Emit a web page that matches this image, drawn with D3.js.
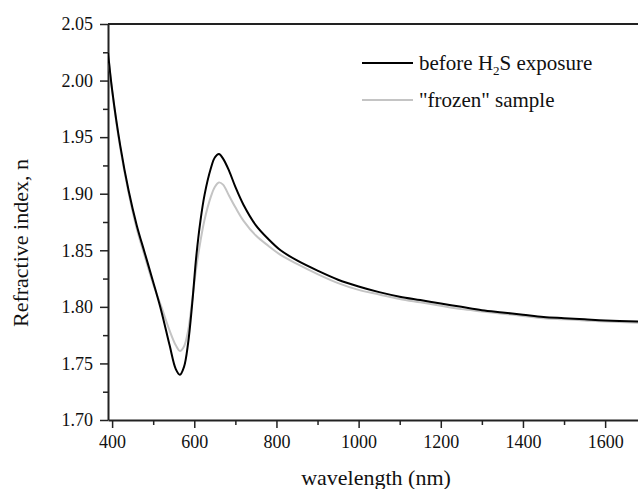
<!DOCTYPE html>
<html>
<head>
<meta charset="utf-8">
<script src="https://cdn.jsdelivr.net/npm/d3@7"></script>
<style>
  body { margin: 0; background: #fff; }
  svg text { font-family: "Liberation Serif", "Times New Roman", serif; fill: #111; }
</style>
</head>
<body>
<div id="chart"></div>
<script>
// refractive index vs wavelength
const wavelengths = [390, 400, 420, 440, 460, 480, 500, 520, 540, 555, 565, 575, 585, 595, 605, 615, 625, 640, 650, 660, 670, 685, 700, 720, 750, 780, 810, 850, 900, 950, 1000, 1050, 1100, 1150, 1200, 1250, 1300, 1350, 1400, 1450, 1500, 1550, 1600, 1680];
const nBefore = [2.025, 1.992, 1.942, 1.903, 1.872, 1.847, 1.822, 1.796, 1.766, 1.745, 1.740, 1.747, 1.768, 1.803, 1.845, 1.876, 1.899, 1.922, 1.932, 1.935, 1.931, 1.920, 1.906, 1.890, 1.872, 1.860, 1.850, 1.841, 1.832, 1.824, 1.818, 1.813, 1.809, 1.806, 1.803, 1.800, 1.797, 1.795, 1.793, 1.791, 1.790, 1.789, 1.788, 1.787];
const nFrozen = [2.025, 1.991, 1.940, 1.901, 1.869, 1.844, 1.820, 1.800, 1.779, 1.766, 1.761, 1.765, 1.779, 1.806, 1.835, 1.858, 1.877, 1.897, 1.906, 1.910, 1.908, 1.898, 1.888, 1.876, 1.863, 1.854, 1.846, 1.838, 1.829, 1.821, 1.815, 1.811, 1.807, 1.804, 1.801, 1.798, 1.796, 1.794, 1.792, 1.790, 1.789, 1.788, 1.787, 1.786];
const xTicks = [400, 600, 800, 1000, 1200, 1400, 1600];
const yTicks = [1.70, 1.75, 1.80, 1.85, 1.90, 1.95, 2.00, 2.05];
const seriesNames = ["before", "\"frozen\" sample"];

const width = 638, height = 489,
      margin = ({top: 24, right: 0, left: 108, bottom: 69});
const serif = "'Liberation Serif', 'Times New Roman', serif";

const svg = d3.select("#chart")
    .append("svg")
    .attr("width", width)
    .attr("height", height);

const x = d3.scaleLinear()
    .domain([390, 1680])
    .range([margin.left, width - margin.right]);

const y = d3.scaleLinear()
    .domain([1.70, 2.05])
    .range([height - margin.bottom, margin.top]);

// minor ticks halfway between the major ones
const xMinor = xTicks.map(d => d + 100).filter(d => d < 1680);
const yMinor = yTicks.slice(0, -1).map(d => d + 0.025);

svg.append("g")
    .attr("transform", `translate(0,${height - margin.bottom})`)
    .call(d3.axisBottom(x).tickValues(xMinor).tickSize(5).tickFormat(""))
    .call(g => g.select(".domain").remove())
    .call(g => g.selectAll("line").attr("stroke", "#222").attr("stroke-width", 1.5));

svg.append("g")
    .attr("transform", `translate(${margin.left},0)`)
    .call(d3.axisLeft(y).tickValues(yMinor).tickSize(5).tickFormat(""))
    .call(g => g.select(".domain").remove())
    .call(g => g.selectAll("line").attr("stroke", "#222").attr("stroke-width", 1.5));

svg.append("g")
    .attr("transform", `translate(0,${height - margin.bottom})`)
    .attr("font-family", serif)
    .attr("font-size", 18)
    .call(d3.axisBottom(x).tickValues(xTicks).tickSize(8).tickPadding(7).tickSizeOuter(0)
        .tickFormat(d3.format("d")))
    .attr("font-family", serif)
    .attr("font-size", 18)
    .call(g => g.select(".domain").attr("stroke", "#222").attr("stroke-width", 2))
    .call(g => g.selectAll("line").attr("stroke", "#222").attr("stroke-width", 1.5));

svg.append("g")
    .attr("transform", `translate(${margin.left},0)`)
    .call(d3.axisLeft(y).tickValues(yTicks).tickSize(8).tickPadding(7).tickSizeOuter(0)
        .tickFormat(d3.format(".2f")))
    .attr("font-family", serif)
    .attr("font-size", 18)
    .call(g => g.select(".domain").attr("stroke", "#222").attr("stroke-width", 2))
    .call(g => g.selectAll("line").attr("stroke", "#222").attr("stroke-width", 1.5));

// top frame line
svg.append("line")
    .attr("x1", margin.left).attr("x2", width)
    .attr("y1", y(2.05)).attr("y2", y(2.05))
    .attr("stroke", "#222").attr("stroke-width", 2);

svg.append("clipPath").attr("id", "plot")
  .append("rect")
    .attr("x", margin.left).attr("y", margin.top)
    .attr("width", width - margin.left).attr("height", height - margin.bottom - margin.top);

const line = d3.line()
    .x((d, i) => x(wavelengths[i]))
    .y(d => y(d))
    .curve(d3.curveCatmullRom.alpha(0.5));

svg.append("path")
    .datum(nFrozen)
    .attr("clip-path", "url(#plot)")
    .attr("fill", "none")
    .attr("stroke", "#c4c4c4")
    .attr("stroke-width", 2)
    .attr("d", line);

svg.append("path")
    .datum(nBefore)
    .attr("clip-path", "url(#plot)")
    .attr("fill", "none")
    .attr("stroke", "#000")
    .attr("stroke-width", 2)
    .attr("d", line);

// legend
const legend = svg.append("g").attr("font-family", serif);
legend.append("line")
    .attr("x1", 362).attr("x2", 413).attr("y1", 63).attr("y2", 63)
    .attr("stroke", "#000").attr("stroke-width", 2);
const t1 = legend.append("text").attr("x", 419).attr("y", 70).attr("font-size", 21);
t1.append("tspan").text(seriesNames[0] + " H");
t1.append("tspan").attr("font-size", 13).attr("dy", 5).text("2");
t1.append("tspan").attr("dy", -5).text("S exposure");

legend.append("line")
    .attr("x1", 362).attr("x2", 413).attr("y1", 100).attr("y2", 100)
    .attr("stroke", "#c4c4c4").attr("stroke-width", 2);
legend.append("text").attr("x", 419).attr("y", 107).attr("font-size", 21)
    .text(seriesNames[1]);

// axis titles
svg.append("text")
    .attr("x", 376).attr("y", 485)
    .attr("text-anchor", "middle")
    .attr("font-size", 22)
    .text("wavelength (nm)");

svg.append("text")
    .attr("transform", "translate(28,243) rotate(-90)")
    .attr("text-anchor", "middle")
    .attr("font-size", 22)
    .text("Refractive index, n");
</script>
</body>
</html>
